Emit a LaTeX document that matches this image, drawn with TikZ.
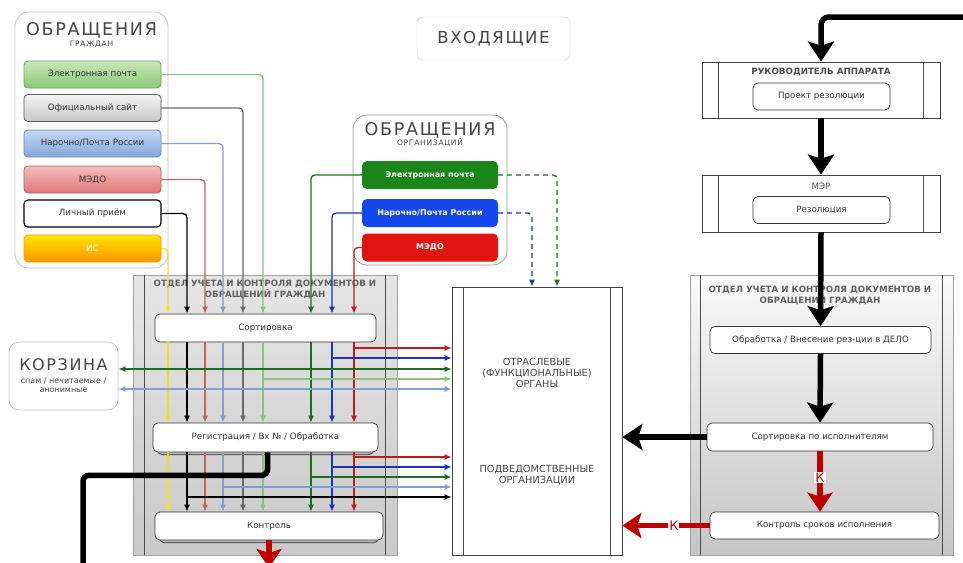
\documentclass[tikz,border=0pt]{standalone}
\usepackage{fontspec}
\setmainfont{DejaVu Sans}
\newfontfamily\headfont[LetterSpace=10]{DejaVu Sans}
\usetikzlibrary{arrows.meta,shadows}

\definecolor{lnYellow}{HTML}{F2E21C}
\definecolor{lnRedL}{HTML}{C4655D}
\definecolor{lnBlueL}{HTML}{7FA0D2}
\definecolor{lnGray}{HTML}{6A6A6A}
\definecolor{lnGreenL}{HTML}{8DC27C}
\definecolor{lnGreenD}{HTML}{1C6F1C}
\definecolor{lnBlueD}{HTML}{1733C4}
\definecolor{lnRedD}{HTML}{C21A1A}
\definecolor{arRed}{HTML}{BE0000}
\definecolor{txtGray}{HTML}{454545}
\definecolor{btnGreenT}{HTML}{C6E8B8}
\definecolor{btnGreenB}{HTML}{8CC878}
\definecolor{btnBlueT}{HTML}{C4D7F4}
\definecolor{btnBlueB}{HTML}{86A7DC}
\definecolor{btnRedT}{HTML}{F6BDBD}
\definecolor{btnRedB}{HTML}{DE7676}
\definecolor{orgGreen}{HTML}{1A861A}
\definecolor{orgBlue}{HTML}{1448EC}
\definecolor{orgRed}{HTML}{E01410}

\begin{document}
\begin{tikzpicture}[
            x=1pt, y=-1pt,
            >={Latex[length=7pt,width=6pt]},
            panel/.style={draw=gray!45, rounded corners=14pt, fill=white, line width=0.8pt},
            headtxt/.style={text=txtGray, inner sep=0pt},
            btn/.style={rounded corners=4pt, minimum width=137pt, minimum height=27pt, line width=0.8pt,
                        font=\fontsize{8.7}{10}\selectfont, text=black!80},
            obtn/.style={rounded corners=5pt, minimum width=136pt, minimum height=28pt,
                        font=\bfseries\fontsize{8}{10}\selectfont, text=white},
            deptbox/.style={draw=gray!75, line width=0.6pt},
            framebox/.style={draw=black!75, fill=white, line width=0.7pt},
            frameln/.style={draw=black!70, line width=0.6pt},
            depttitle/.style={font=\bfseries\fontsize{8.7}{11}\selectfont, text=black!62, align=center},
            procbox/.style={draw=black!80, rounded corners=5pt, fill=white, line width=0.7pt,
                        font=\fontsize{8.7}{10}\selectfont, text=black!80},
            procshadow/.style={copy shadow={shadow xshift=0pt, shadow yshift=-3.5pt, shadow scale=0.96,
                        fill=gray!55, draw=black!80}},
            thinln/.style={line width=1.3pt, rounded corners=4pt},
            dashln/.style={line width=1.4pt, rounded corners=4pt, dash pattern=on 5pt off 4pt},
            bigarrow/.style={line width=5.5pt, black, -{Stealth[length=20pt,width=26pt,inset=4pt]}},
            redarrow/.style={line width=5.5pt, arRed, -{Stealth[length=19pt,width=25pt,inset=4pt]}},
            kmark/.style={fill=white, text=arRed, inner sep=1pt, font=\fontsize{13}{13}\selectfont}
        ]
        \useasboundingbox (0,0) rectangle (963,562);
        \clip (0,0) rectangle (963,562);
        \fill[white] (0,0) rectangle (963,562);

        %Columns of the incoming lines

        \def\colY{168};  \def\colK{187};  \def\colRL{205};
        \def\colBL{223}; \def\colG{243};  \def\colGL{263};
        \def\colGD{311}; \def\colBD{332}; \def\colRD{354};

        \coordinate (xY)  at (\colY,0);
        \coordinate (xK)  at (\colK,0);
        \coordinate (xRL) at (\colRL,0);
        \coordinate (xBL) at (\colBL,0);
        \coordinate (xG)  at (\colG,0);
        \coordinate (xGL) at (\colGL,0);
        \coordinate (xGD) at (\colGD,0);
        \coordinate (xBD) at (\colBD,0);
        \coordinate (xRD) at (\colRD,0);
        \coordinate (xdB) at (532,0);
        \coordinate (xdG) at (557,0);

        %% Citizens

        \node[panel, minimum width=153pt, minimum height=256pt] (citPanel) at (91.5,140) {};
        \node[headtxt, font=\headfont\fontsize{17.5}{17}\selectfont] (citTitle) at (91.5,30) {ОБРАЩЕНИЯ};
        \node[headtxt, font=\headfont\fontsize{7.5}{8}\selectfont] (citSub) at (91.5,44) {ГРАЖДАН};

        \node[btn, draw=btnGreenB!80!black, top color=btnGreenT, bottom color=btnGreenB] (cMail) at (92.5,74.5) {Электронная почта};
        \node[btn, draw=black!65, top color=gray!8, bottom color=gray!45] (cSite) at (92.5,108) {Официальный сайт};
        \node[btn, draw=btnBlueB!80!black, top color=btnBlueT, bottom color=btnBlueB] (cPost) at (92.5,143.5) {Нарочно/Почта России};
        \node[btn, draw=btnRedB!80!black, top color=btnRedT, bottom color=btnRedB] (cMedo) at (92.5,179.5) {МЭДО};
        \node[btn, draw=black, line width=1.2pt, fill=white] (cLich) at (92.5,213.5) {Личный приём};
        \node[btn, draw=orange!80!yellow, top color=yellow!80!orange, bottom color=orange!85!yellow, text=white] (cIS) at (92.5,248.5) {ИС};

        %% Organisations

        \node[draw=gray!45, rounded corners=6pt, minimum width=153pt, minimum height=43pt,
              headtxt, font=\headfont\fontsize{16.5}{16}\selectfont] (vhod) at (493.5,38.5) {ВХОДЯЩИЕ};

        \node[panel, draw=gray!80, minimum width=154pt, minimum height=150pt] (orgPanel) at (430,190) {};
        \node[headtxt, font=\headfont\fontsize{17.5}{17}\selectfont] (orgTitle) at (430,130) {ОБРАЩЕНИЯ};
        \node[headtxt, font=\headfont\fontsize{7.5}{8}\selectfont] (orgSub) at (430,143) {ОРГАНИЗАЦИЙ};

        \node[obtn, fill=orgGreen] (oMail) at (430,175) {Электронная почта};
        \node[obtn, fill=orgBlue] (oPost) at (430,213) {Нарочно/Почта России};
        \node[obtn, fill=orgRed] (oMedo) at (430,247.5) {МЭДО};

        %% Basket

        \node[panel, rounded corners=10pt, minimum width=109pt, minimum height=68pt, align=center,
              text=txtGray, font=\fontsize{8}{9.5}\selectfont] (korz) at (63.5,376)
              {{\headfont\fontsize{16}{16}\selectfont КОРЗИНА}\\[3pt]спам / нечитаемые /\\анонимные};

        %% Department (left)

        \node[deptbox, top color=gray!20, bottom color=gray!42, minimum width=264pt, minimum height=280pt] (deptL) at (265,415) {};
        \node[depttitle] (deptLtitle) at (265,289) {ОТДЕЛ УЧЕТА И КОНТРОЛЯ ДОКУМЕНТОВ И\\ОБРАЩЕНИЙ ГРАЖДАН};
        \node[procbox, minimum width=221pt, minimum height=28pt] (sort) at (265.5,328) {Сортировка};
        \node[procbox, procshadow, minimum width=225pt, minimum height=29pt] (reg) at (265.5,437.5) {Регистрация / Вх № / Обработка};
        \node[procbox, procshadow, minimum width=228pt, minimum height=28pt] (kontr) at (269,526) {Контроль};

        %% Bodies

        \node[framebox, minimum width=170pt, minimum height=268pt] (ctr) at (537,421) {};
        \node[align=center, text=txtGray, font=\fontsize{9.8}{11}\selectfont] (ctrTop) at (537,373)
              {ОТРАСЛЕВЫЕ\\(ФУНКЦИОНАЛЬНЫЕ)\\ОРГАНЫ};
        \node[align=center, text=txtGray, font=\fontsize{9.8}{11}\selectfont] (ctrBot) at (537,475)
              {ПОДВЕДОМСТВЕННЫЕ\\ОРГАНИЗАЦИИ};

        %% Resolution chain (right)

        \node[framebox, minimum width=238pt, minimum height=56pt] (ruk) at (821,90) {};
        \node[depttitle, text=black!70] (rukTitle) at (821,71.5) {РУКОВОДИТЕЛЬ АППАРАТА};
        \node[procbox, minimum width=137pt, minimum height=27pt] (rezProj) at (821.5,96.5) {Проект резолюции};

        \node[framebox, minimum width=238pt, minimum height=57pt] (mer) at (821,203.5) {};
        \node[depttitle, font=\fontsize{8.7}{10}\selectfont, text=black!70] (merTitle) at (821,186) {МЭР};
        \node[procbox, minimum width=137pt, minimum height=27pt] (rez) at (821.5,210) {Резолюция};

        \node[deptbox, top color=gray!4, bottom color=gray!45, minimum width=263pt, minimum height=280pt] (deptR) at (821.5,415) {};
        \node[depttitle] (deptRtitle) at (820,295) {ОТДЕЛ УЧЕТА И КОНТРОЛЯ ДОКУМЕНТОВ И\\ОБРАЩЕНИЙ ГРАЖДАН};
        \node[procbox, minimum width=221pt, minimum height=27pt] (obr) at (820.5,340) {Обработка / Внесение рез-ции в ДЕЛО};
        \node[procbox, minimum width=226pt, minimum height=28pt] (sortIsp) at (820,437) {Сортировка по исполнителям};
        \node[procbox, minimum width=229pt, minimum height=27pt] (kSrok) at (824.5,525.5) {Контроль сроков исполнения};

        \foreach \b/\o in {deptL/12pt, deptR/11pt, ctr/12pt, ruk/17pt, mer/17pt}{
            \draw[frameln] ([xshift=\o]\b.north west) -- ([xshift=\o]\b.south west);
            \draw[frameln] ([xshift=-\o]\b.north east) -- ([xshift=-\o]\b.south east);
        }

        %% Incoming lines -> Сортировка

        \draw[thinln, lnGreenL, ->] (cMail.east) -| (xGL |- sort.north);
        \draw[thinln, lnGray, ->] (cSite.east) -| (xG |- sort.north);
        \draw[thinln, lnBlueL, ->] (cPost.east) -| (xBL |- sort.north);
        \draw[thinln, lnRedL, ->] (cMedo.east) -| (xRL |- sort.north);
        \draw[thinln, black, ->] (cLich.east) -| (xK |- sort.north);
        \draw[thinln, lnYellow, ->] (cIS.east) -| (xY |- sort.north);
        \draw[thinln, lnGreenD, ->] (oMail.west) -| (xGD |- sort.north);
        \draw[thinln, lnBlueD, ->] (oPost.west) -| (xBD |- sort.north);
        \draw[thinln, lnRedD, ->] (oMedo.west) -| (xRD |- sort.north);
        \draw[dashln, lnGreenD, ->] (oMail.east) -| (xdG |- ctr.north);
        \draw[dashln, lnBlueD, ->] (oPost.east) -| (xdB |- ctr.north);

        %% Сортировка -> Регистрация

        \draw[thinln, lnYellow, ->] (xY |- sort.south) -- (xY |- reg.north);
        \draw[thinln, black, ->] (xK |- sort.south) -- (xK |- reg.north);
        \draw[thinln, lnRedL, ->] (xRL |- sort.south) -- (xRL |- reg.north);
        \draw[thinln, lnBlueL, ->] (xBL |- sort.south) -- (xBL |- reg.north);
        \draw[thinln, lnGray, ->] (xG |- sort.south) -- (xG |- reg.north);
        \draw[thinln, lnGreenL, ->] (xGL |- sort.south) -- (xGL |- reg.north);
        \draw[thinln, lnGreenD, ->] (xGD |- sort.south) -- (xGD |- reg.north);
        \draw[thinln, lnBlueD, ->] (xBD |- sort.south) -- (xBD |- reg.north);
        \draw[thinln, lnRedD, ->] (xRD |- sort.south) -- (xRD |- reg.north);

        \coordinate (brRD1) at (\colRD,348);
        \coordinate (brBD1) at (\colBD,358);
        \coordinate (yGD1)  at (0,369);
        \coordinate (brGL1) at (\colGL,379);
        \coordinate (yBL1)  at (0,389);

        \draw[thinln, lnRedD, ->] (brRD1) -- (brRD1 -| ctr.west);
        \draw[thinln, lnBlueD, ->] (brBD1) -- (brBD1 -| ctr.west);
        \draw[thinln, lnGreenD, <->] (korz.east |- yGD1) -- (ctr.west |- yGD1);
        \draw[thinln, lnGreenL, ->] (brGL1) -- (brGL1 -| ctr.west);
        \draw[thinln, lnBlueL, <->] (korz.east |- yBL1) -- (ctr.west |- yBL1);

        %% Регистрация -> Контроль

        \draw[thinln, lnYellow, ->] (xY |- reg.south) -- (xY |- kontr.north);
        \draw[thinln, black, ->] (xK |- reg.south) -- (xK |- kontr.north);
        \draw[thinln, lnRedL, ->] (xRL |- reg.south) -- (xRL |- kontr.north);
        \draw[thinln, lnBlueL, ->] (xBL |- reg.south) -- (xBL |- kontr.north);
        \draw[thinln, lnGray, ->] (xG |- reg.south) -- (xG |- kontr.north);
        \draw[thinln, lnGreenL, ->] (xGL |- reg.south) -- (xGL |- kontr.north);
        \draw[thinln, lnGreenD, ->] (xGD |- reg.south) -- (xGD |- kontr.north);
        \draw[thinln, lnBlueD, ->] (xBD |- reg.south) -- (xBD |- kontr.north);
        \draw[thinln, lnRedD, ->] (xRD |- reg.south) -- (xRD |- kontr.north);

        \coordinate (brRD2) at (\colRD,457);
        \coordinate (brBD2) at (\colBD,467);
        \coordinate (brGD2) at (\colGD,477);
        \coordinate (brBL2) at (\colBL,487);
        \coordinate (brK2)  at (\colK,497);

        \draw[thinln, lnRedD, ->] (brRD2) -- (brRD2 -| ctr.west);
        \draw[thinln, lnBlueD, ->] (brBD2) -- (brBD2 -| ctr.west);
        \draw[thinln, lnGreenD, ->] (brGD2) -- (brGD2 -| ctr.west);
        \draw[thinln, lnBlueL, ->] (brBL2) -- (brBL2 -| ctr.west);
        \draw[thinln, black, ->] (brK2) -- (brK2 -| ctr.west);

        %% Resolution path

        \coordinate (entryB) at (975,17);
        \coordinate (exitB) at (83,580);
        \coordinate (exitR) at (269,568);

        \draw[line width=5.5pt, rounded corners=6pt] ([xshift=2pt]reg.south) -- ++(0,23) -| (exitB);
        \draw[bigarrow, rounded corners=8pt] (entryB) -| (ruk.north);
        \draw[bigarrow] (ruk.south) -- (mer.north);
        \draw[bigarrow] (mer.south) -- (obr.north);
        \draw[bigarrow] (obr.south) -- (sortIsp.north);
        \draw[bigarrow] (sortIsp.west) -- (ctr.east |- sortIsp.west);
        \draw[redarrow] (sortIsp.south) -- node[kmark, pos=0.43] {К} (sortIsp.south |- kSrok.north);
        \draw[redarrow] (kSrok.west) -- node[kmark, pos=0.41] {К} (ctr.east |- kSrok.west);
        \draw[redarrow] (kontr.south) -- (exitR);

    \end{tikzpicture}
\end{document}
